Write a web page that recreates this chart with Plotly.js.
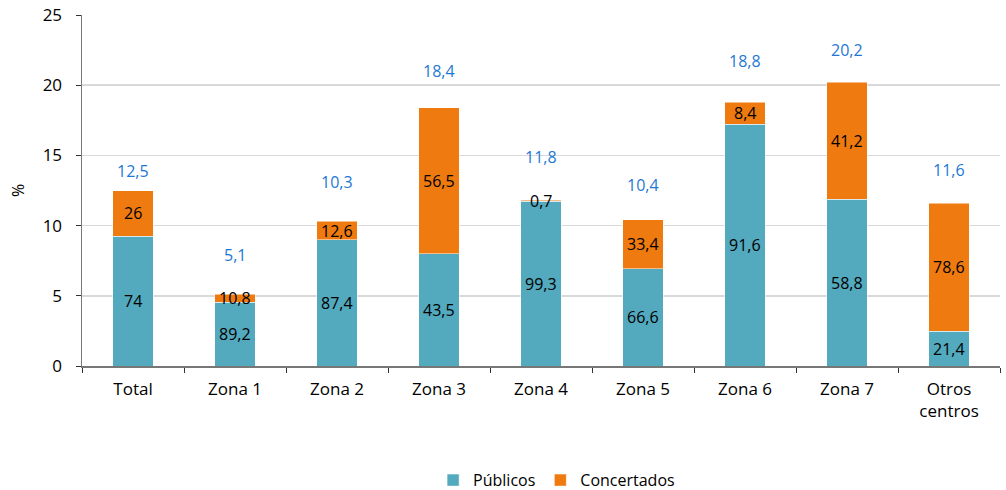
<!DOCTYPE html>
<html>
<head>
<meta charset="utf-8">
<script src="https://cdn.plot.ly/plotly-3.0.1.min.js"></script>
<style>html,body{margin:0;padding:0;background:#fff;}#chart{width:1006px;height:490px;}</style>
</head>
<body>
<div id="chart"></div>
<script>
const categories = ["Total", "Zona 1", "Zona 2", "Zona 3", "Zona 4", "Zona 5", "Zona 6", "Zona 7", "Otros<br>centros"];
const totals = [12.5, 5.1, 10.3, 18.4, 11.8, 10.4, 18.8, 20.2, 11.6];
const publicosPct = [74, 89.2, 87.4, 43.5, 99.3, 66.6, 91.6, 58.8, 21.4];
const concertadosPct = [26, 10.8, 12.6, 56.5, 0.7, 33.4, 8.4, 41.2, 78.6];
const seriesNames = ["Públicos", "Concertados"];

const totalLabelShift = [20, 39, 39, 37, 43, 35, 41, 32, 33];

const fmt = v => String(v).replace('.', ',');
const pubVals = totals.map((t, i) => t * publicosPct[i] / 100);
const conVals = totals.map((t, i) => t * concertadosPct[i] / 100);

const FONT = "Open Sans, Noto Sans, sans-serif";

const traces = [
  {type: 'bar', name: seriesNames[0], x: categories, y: pubVals, marker: {color: '#53A9BD', line: {color: '#ffffff', width: 0.5}}, hoverinfo: 'skip'},
  {type: 'bar', name: seriesNames[1], x: categories, y: conVals, marker: {color: '#EE7A10', line: {color: '#ffffff', width: 0.5}}, hoverinfo: 'skip'}
];

const annotations = [];
categories.forEach((c, i) => {
  annotations.push({x: c, y: pubVals[i] / 2, text: fmt(publicosPct[i]), showarrow: false, font: {family: FONT, size: 16, color: '#000'}, yanchor: 'middle'});
  annotations.push({x: c, y: pubVals[i] + conVals[i] / 2, text: fmt(concertadosPct[i]), showarrow: false, font: {family: FONT, size: 16, color: '#000'}, yanchor: 'middle'});
  annotations.push({x: c, y: totals[i], yshift: totalLabelShift[i], text: fmt(totals[i]), showarrow: false, font: {family: FONT, size: 16, color: '#1E78D2'}, yanchor: 'middle'});
});

const layout = {
  width: 1006, height: 490,
  margin: {l: 82, r: 6, t: 15, b: 124},
  paper_bgcolor: '#fff', plot_bgcolor: '#fff',
  barmode: 'stack', bargap: 0.6,
  font: {family: FONT, size: 16, color: '#000'},
  xaxis: {
    type: 'category', tickson: 'boundaries', ticks: 'outside', ticklen: 5, tickcolor: '#333',
    showline: true, linecolor: '#777', linewidth: 1.5, showgrid: false, ticklabelstandoff: 7,
    tickfont: {family: FONT, size: 17, color: '#000'}, automargin: false
  },
  yaxis: {
    range: [0, 25], dtick: 5, ticks: 'outside', ticklen: 5, tickcolor: '#333',
    showline: true, linecolor: '#777', linewidth: 1.5, ticklabelstandoff: 10,
    showgrid: true, gridcolor: '#d9d9d9', gridwidth: 1.5, zeroline: false,
    tickfont: {family: FONT, size: 17, color: '#000'},
    title: {text: '%', font: {family: FONT, size: 16, color: '#000'}, standoff: 14}, automargin: false
  },
  legend: {orientation: 'h', x: 0.517, xanchor: 'center', yref: 'container', y: 0.02, yanchor: 'middle', font: {family: FONT, size: 16, color: '#000'}, traceorder: 'normal'},
  annotations: annotations,
  showlegend: true
};

Plotly.newPlot('chart', traces, layout, {displayModeBar: false, staticPlot: true});
</script>
</body>
</html>
